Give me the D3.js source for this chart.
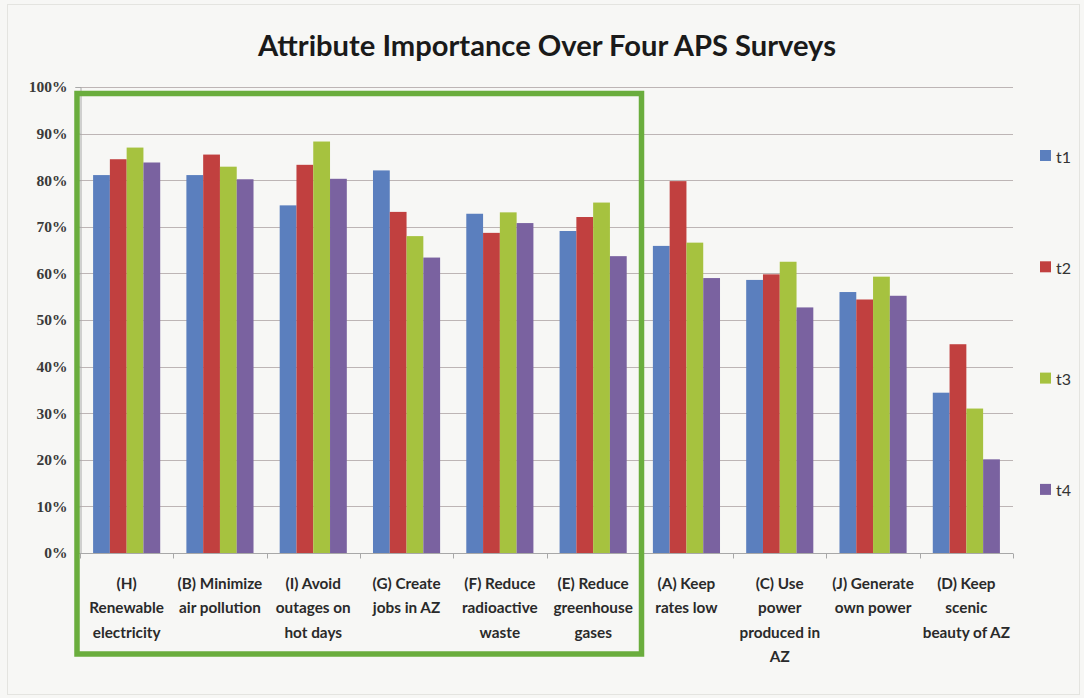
<!DOCTYPE html>
<html><head><meta charset="utf-8">
<script src="https://cdn.jsdelivr.net/npm/d3@7"></script>
<style>
html,body{margin:0;padding:0;background:#f7f7f5;}
svg{display:block;}
</style></head>
<body>
<svg id="chart" width="1084" height="698"></svg>
<script>
const categories = ["H","B","I","G","F","E","A","C","J","D"];
const categoryLabels = [
  ["(H)","Renewable","electricity"],
  ["(B) Minimize","air pollution"],
  ["(I) Avoid","outages on","hot days"],
  ["(G) Create","jobs in AZ"],
  ["(F) Reduce","radioactive","waste"],
  ["(E) Reduce","greenhouse","gases"],
  ["(A) Keep","rates low"],
  ["(C) Use","power","produced in","AZ"],
  ["(J) Generate","own power"],
  ["(D) Keep","scenic","beauty of AZ"]
];
const seriesNames = ["t1","t2","t3","t4"];
const t1 = [0.811,0.811,0.746,0.821,0.728,0.691,0.659,0.586,0.560,0.344];
const t2 = [0.845,0.855,0.833,0.732,0.687,0.721,0.798,0.598,0.544,0.448];
const t3 = [0.870,0.829,0.883,0.680,0.731,0.752,0.666,0.625,0.593,0.310];
const t4 = [0.838,0.802,0.803,0.634,0.708,0.637,0.590,0.527,0.552,0.201];
const yTicks = [0,0.1,0.2,0.3,0.4,0.5,0.6,0.7,0.8,0.9,1.0];
const title = "Attribute Importance Over Four APS Surveys";
const colors = ["#5b7fbe","#c1403f","#a6c23f","#7a62a0"];

const seriesValues = [t1,t2,t3,t4];
const svg = d3.select("#chart");
const L = 80, R = 1013, T = 87, B = 553;

// faint outer frame
svg.append("rect").attr("x",7.5).attr("y",4.5).attr("width",1072).attr("height",690)
  .attr("fill","none").attr("stroke","#e4e4e0").attr("stroke-width",1);

const x0 = d3.scaleBand().domain(categories).range([L,R]).paddingInner(0).paddingOuter(0);
const x1 = d3.scaleBand().domain(seriesNames).range([0,x0.bandwidth()]).paddingInner(0).paddingOuter(0.78);
const y = d3.scaleLinear().domain([0,1]).range([B,T]);

// gridlines
svg.append("g").selectAll("line").data(yTicks).join("line")
  .attr("x1",L).attr("x2",R).attr("y1",d=>Math.round(y(d))+0.5).attr("y2",d=>Math.round(y(d))+0.5)
  .attr("stroke","#bdb5b5").attr("stroke-width",1);

// y axis
const yAxis = d3.axisLeft(y).tickValues(yTicks).tickFormat(d3.format(".0%")).tickSize(5).tickPadding(8);
const gy = svg.append("g").attr("transform",`translate(${L+0.5},0)`).call(yAxis);
gy.select(".domain").attr("stroke","#a8a8a8");
gy.selectAll(".tick line").attr("stroke","#a8a8a8");
gy.selectAll(".tick text").attr("font-family","'Liberation Serif', serif").attr("font-weight","bold")
  .attr("font-size","15.5px").attr("fill","#3a3a3a").attr("x",-13);

// x axis
const gx = svg.append("g").attr("transform",`translate(0,${B+0.5})`);
gx.append("line").attr("x1",L).attr("x2",R).attr("stroke","#a8a8a8");
const bounds = categories.map(c=>x0(c)).concat([R]);
gx.selectAll("line.tk").data(bounds).join("line").attr("class","tk")
  .attr("x1",d=>Math.round(d)+0.5).attr("x2",d=>Math.round(d)+0.5).attr("y1",0).attr("y2",5)
  .attr("stroke","#a8a8a8");

// bars
const groups = svg.append("g").selectAll("g").data(categories).join("g")
  .attr("transform",c=>`translate(${x0(c)},0)`);
groups.selectAll("rect").data((c,i)=>seriesNames.map((s,j)=>({s, v:seriesValues[j][i], j})))
  .join("rect")
  .attr("x",d=>x1(d.s)).attr("width",x1.bandwidth())
  .attr("y",d=>y(d.v)).attr("height",d=>B-y(d.v))
  .attr("fill",d=>colors[d.j]);

// category labels
const lab = svg.append("g").selectAll("text").data(categories).join("text")
  .attr("text-anchor","middle")
  .attr("font-family","Lato, 'Open Sans', sans-serif").attr("font-weight","bold")
  .attr("font-size","15.3px").attr("fill","#2a2a2a");
lab.each(function(c,i){
  const t = d3.select(this);
  categoryLabels[i].forEach((line,k)=>{
    t.append("tspan").attr("x",x0(c)+x0.bandwidth()/2).attr("y",589+k*24.3).text(line);
  });
});

// green highlight box
svg.append("rect").attr("x",77).attr("y",93.5).attr("width",564.5).attr("height",560.5)
  .attr("fill","none").attr("stroke","#6aad3d").attr("stroke-width",5.5);

// title
const tt = svg.append("text").attr("x",547).attr("y",56).attr("text-anchor","middle")
  .attr("font-family","Lato, sans-serif").attr("font-weight","bold").attr("font-size","24px")
  .attr("fill","#1a1a1a").text(title);
const tw = tt.node().getComputedTextLength();
tt.attr("font-size",(24*578/tw).toFixed(2)+"px");

// legend
const leg = svg.append("g").selectAll("g").data(seriesNames).join("g")
  .attr("transform",(d,i)=>`translate(1040,${156+i*111.3})`);
leg.append("rect").attr("x",0).attr("y",-6).attr("width",11).attr("height",11).attr("fill",(d,i)=>colors[i]);
leg.append("text").attr("x",16).attr("y",0).attr("dominant-baseline","central")
  .attr("font-family","Lato, sans-serif").attr("font-size","16px").attr("fill","#333").text(d=>d);
</script>
</body></html>
